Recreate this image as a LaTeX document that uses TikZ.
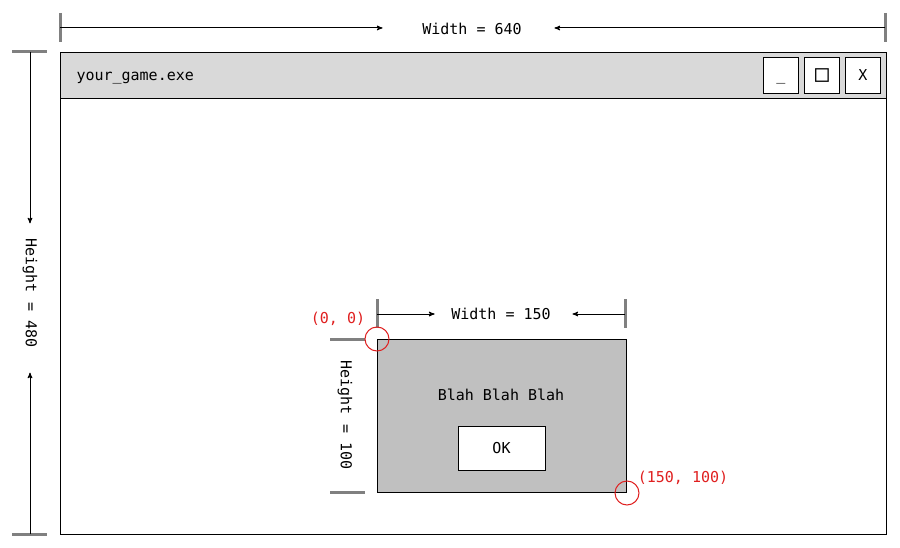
\documentclass[tikz,border=0pt]{standalone}
\usepackage{fontspec}
\setmonofont{DejaVu Sans Mono}
\usetikzlibrary{arrows}
\definecolor{bargray}{HTML}{D9D9D9}
\definecolor{dlggray}{HTML}{C0C0C0}
\definecolor{tickgray}{HTML}{808080}
\definecolor{markred}{HTML}{E02020}
\begin{document}
\begin{tikzpicture}[x=1pt,y=-1pt, >=stealth', line width=1pt,
  font=\ttfamily\fontsize{15}{18}\selectfont,
  box/.style={draw, inner sep=0, anchor=north west},
  tick/.style={tickgray, line width=3pt},
  dimline/.style={black, line width=1pt, ->}]
\useasboundingbox (0,0) rectangle (900,548);
% window with title bar
\node[box, fill=white, minimum width=826, minimum height=482] (win) at (60,52) {};
\node[box, fill=bargray, minimum width=826, minimum height=46] (bar) at (win.north west) {};
\node[anchor=base west, inner sep=0] (title) at (76,81) {your\_game.exe};
\foreach \x/\n in {763/min, 804/max, 845/close}
 \node[box, fill=white, minimum width=35, minimum height=36] (\n) at (\x,57) {};
\node[anchor=base, inner sep=0] (minsym) at ([yshift=-5]min.center) {\_};
\node[inner sep=0, font=\ttfamily\fontsize{23}{23}\selectfont] (maxsym) at (max.center) {□};
\node[inner sep=0] (closesym) at (close.center) {X};
% width of the window
\node (wlabel) at (472,29) {Width = 640};
\coordinate (wl) at (60,28);
\coordinate (wr) at (885,28);
\draw[tick] (60,13) --++(0,29);
\draw[tick] (885,13) --++(0,29);
\draw[dimline] (wl) -- ([xshift=-36]wlabel.west |- wl);
\draw[dimline] (wr) -- ([xshift=29]wlabel.east |- wr);
% height of the window
\node[rotate=-90, inner sep=0] (hlabel) at (30,293) {Height = 480};
\coordinate (ht) at (30,52);
\coordinate (hb) at (30,534);
\draw[tick] (12,52) --++(35,0);
\draw[tick] (12,534) --++(35,0);
\draw[dimline] (ht) -- ([yshift=15]hlabel.west -| ht);
\draw[dimline] (hb) -- ([yshift=-25]hlabel.east -| hb);
% dialog
\node[box, fill=dlggray, minimum width=249, minimum height=153] (dlg) at (377,339) {};
\node (blah) at (501,395) {Blah Blah Blah};
\node[draw, fill=white, minimum width=87, minimum height=44] (ok) at (501.5,448) {OK};
% width of the dialog
\node (dwlabel) at (501,314) {Width = 150};
\coordinate (dwl) at (377,314);
\coordinate (dwr) at (625,314);
\draw[tick] (377,299) --++(0,29);
\draw[tick] (625,299) --++(0,29);
\draw[dimline] (dwl) -- ([xshift=-13]dwlabel.west |- dwl);
\draw[dimline] (dwr) -- ([xshift=18]dwlabel.east |- dwr);
% height of the dialog
\node[rotate=-90] (dhlabel) at (345,415) {Height = 100};
\draw[tick] (330,339) --++(35,0);
\draw[tick] (330,492) --++(35,0);
% corners
\draw[markred] (dlg.north west) circle (12pt);
\draw[markred] (dlg.south east) circle (12pt);
\node[markred] (origin) at (338,319) {(0, 0)};
\node[markred] (corner) at (683,478) {(150, 100)};
\end{tikzpicture}
\end{document}
